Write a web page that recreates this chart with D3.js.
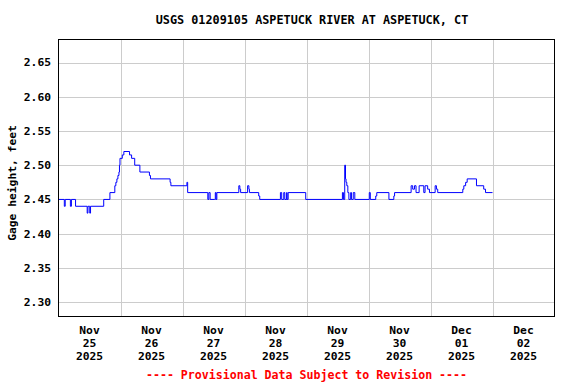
<!DOCTYPE html>
<html>
<head>
<meta charset="utf-8">
<script src="https://cdn.jsdelivr.net/npm/d3@7"></script>
<style>
  body { margin: 0; background: #fff; }
  text { font-family: "DejaVu Sans Mono", monospace; font-weight: bold; }
</style>
</head>
<body>
<svg width="576" height="384"></svg>
<script>
// gage record, stepped: hours since Nov 25 00:00 and height in feet
var stepHours = [0, 2.25, 2.6, 4.6, 5.0, 6.6, 11.1, 11.4, 12.1, 12.4, 17.5, 19.9, 21.8, 22.2, 22.6, 23.0, 23.4, 23.6, 23.8,
  24.7, 25.3, 27.5, 28.3, 29.5, 31.5, 35.2, 35.6, 43.2, 43.5, 49.7, 50.0,
  57.8, 58.2, 58.7, 60.4, 60.7, 61.0, 61.3, 69.8, 70.2, 70.5, 73.2, 73.7, 73.9, 77.5, 77.9,
  85.9, 86.4, 87.2, 87.6, 88.3, 88.5, 88.9, 95.7,
  109.9, 110.3, 110.8, 111.1, 111.3, 111.6, 112.0, 112.4, 113.1, 113.4, 114.1, 114.7, 120.3, 120.7, 122.8, 123.2,
  127.9, 129.8, 130.1, 136.5, 137.1, 137.8, 138.4, 139.6, 141.4, 141.9, 142.9, 143.6, 145.8, 146.3, 146.8,
  156.5, 156.9, 157.6, 158.2, 161.8, 164.6, 165.3, 168.0];
var stepFeet = [2.45, 2.44, 2.45, 2.44, 2.45, 2.44, 2.43, 2.44, 2.43, 2.44, 2.45, 2.46, 2.47, 2.475, 2.48, 2.485, 2.49, 2.50, 2.51,
  2.515, 2.52, 2.515, 2.51, 2.50, 2.49, 2.485, 2.48, 2.475, 2.47, 2.475, 2.46,
  2.45, 2.46, 2.45, 2.45, 2.46, 2.45, 2.46, 2.47, 2.465, 2.46, 2.47, 2.465, 2.46, 2.455, 2.45,
  2.46, 2.45, 2.46, 2.45, 2.46, 2.45, 2.46, 2.45,
  2.46, 2.45, 2.50, 2.48, 2.475, 2.47, 2.46, 2.45, 2.46, 2.45, 2.46, 2.45, 2.46, 2.45, 2.455, 2.46,
  2.45, 2.455, 2.46, 2.47, 2.465, 2.47, 2.46, 2.47, 2.46, 2.47, 2.465, 2.46, 2.47, 2.465, 2.46,
  2.465, 2.47, 2.475, 2.48, 2.47, 2.465, 2.46, 2.46];

var yTicks = [2.30, 2.35, 2.40, 2.45, 2.50, 2.55, 2.60, 2.65];
var tickMonths = ["Nov", "Nov", "Nov", "Nov", "Nov", "Nov", "Dec", "Dec"];
var tickDays = ["25", "26", "27", "28", "29", "30", "01", "02"];
var tickYears = ["2025", "2025", "2025", "2025", "2025", "2025", "2025", "2025"];

var title = "USGS 01209105 ASPETUCK RIVER AT ASPETUCK, CT";

var svg = d3.select("svg"),
    plotLeft = 58.5, plotRight = 554.5, plotTop = 39.5, plotBottom = 316.5;

var start = new Date(2025, 10, 25);
var x = d3.scaleTime()
    .domain([start, d3.timeDay.offset(start, 8)])
    .range([plotLeft, plotRight]);
var y = d3.scaleLinear()
    .domain([2.279, 2.6836])
    .range([plotBottom, plotTop]);

var data = stepHours.map(function(h, i) {
  return { t: new Date(start.getTime() + h * 3600000), v: stepFeet[i] };
});

// grid
var grid = svg.append("g").attr("stroke", "#cccccc").attr("stroke-width", 1);
grid.selectAll(".gy")
  .data(yTicks)
  .enter().append("line")
    .attr("x1", plotLeft).attr("x2", plotRight)
    .attr("y1", function(d) { return Math.round(y(d)) + 0.5; })
    .attr("y2", function(d) { return Math.round(y(d)) + 0.5; });
grid.selectAll(".gx")
  .data(d3.timeDay.range(d3.timeDay.offset(start, 1), d3.timeDay.offset(start, 8)))
  .enter().append("line")
    .attr("y1", plotTop).attr("y2", plotBottom)
    .attr("x1", function(d) { return Math.round(x(d)) + 0.5; })
    .attr("x2", function(d) { return Math.round(x(d)) + 0.5; });

// gage line
svg.append("path")
  .datum(data)
  .attr("fill", "none")
  .attr("stroke", "#0000ff")
  .attr("stroke-width", 1)
  .attr("d", d3.line()
    .curve(d3.curveStepAfter)
    .x(function(d) { return x(d.t); })
    .y(function(d) { return y(d.v); }));

// frame
svg.append("rect")
  .attr("x", plotLeft).attr("y", plotTop)
  .attr("width", plotRight - plotLeft).attr("height", plotBottom - plotTop)
  .attr("fill", "none").attr("stroke", "#000").attr("stroke-width", 1);

// y labels
svg.append("g")
  .selectAll("text")
  .data(yTicks)
  .enter().append("text")
    .attr("x", 51)
    .attr("y", function(d) { return y(d); })
    .attr("dy", "0.35em")
    .attr("text-anchor", "end")
    .attr("font-size", "11.3px")
    .text(d3.format(".2f"));

svg.append("text")
  .attr("transform", "translate(16,183)rotate(-90)")
  .attr("text-anchor", "middle")
  .attr("font-size", "11.3px")
  .text("Gage height, feet");

// x labels
var xl = svg.append("g")
  .selectAll("g")
  .data(tickDays)
  .enter().append("g")
    .attr("text-anchor", "middle")
    .attr("font-size", "11.3px")
    .attr("transform", function(d, i) {
      return "translate(" + x(d3.timeHour.offset(d3.timeDay.offset(start, i), 12)) + ",0)";
    });
xl.append("text").attr("y", 334).text(function(d, i) { return tickMonths[i]; });
xl.append("text").attr("y", 347).text(function(d) { return d; });
xl.append("text").attr("y", 360).text(function(d, i) { return tickYears[i]; });

svg.append("text")
  .attr("x", 312)
  .attr("y", 24)
  .attr("text-anchor", "middle")
  .attr("font-size", "11.8px")
  .text(title);

svg.append("text")
  .attr("x", (plotLeft + plotRight) / 2)
  .attr("y", 379)
  .attr("text-anchor", "middle")
  .attr("font-size", "11.6px")
  .attr("fill", "#ff0000")
  .text("---- Provisional Data Subject to Revision ----");
</script>
</body>
</html>
